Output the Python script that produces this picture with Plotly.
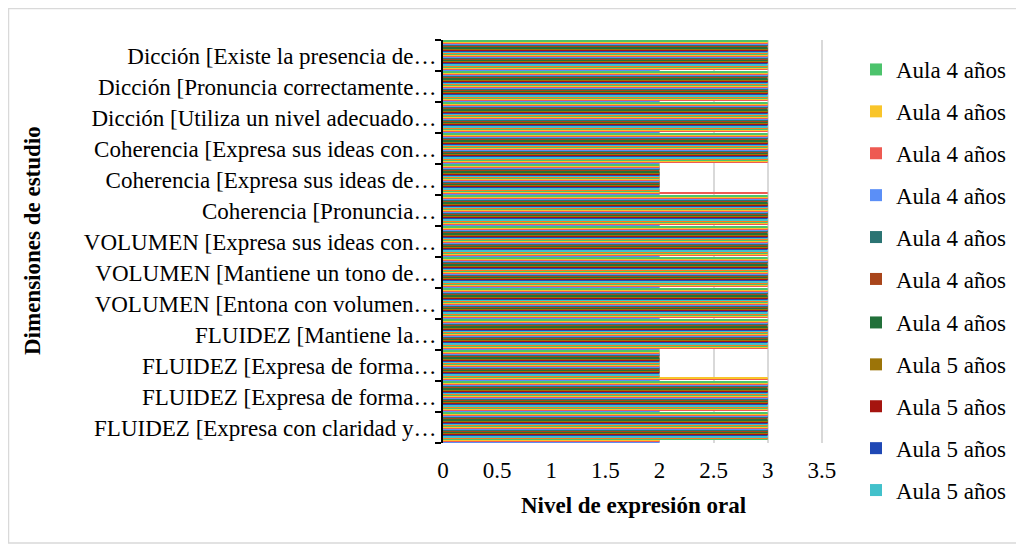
import plotly.graph_objects as go

# ---------------- data ----------------
categories = [
    "FLUIDEZ [Expresa con claridad y…",
    "FLUIDEZ [Expresa de forma…",
    "FLUIDEZ [Expresa de forma…\u200b",
    "FLUIDEZ [Mantiene la…",
    "VOLUMEN [Entona con volumen…",
    "VOLUMEN [Mantiene un tono de…",
    "VOLUMEN [Expresa sus ideas con…",
    "Coherencia [Pronuncia…",
    "Coherencia [Expresa sus ideas de…",
    "Coherencia [Expresa sus ideas con…",
    "Dicción [Utiliza un nivel adecuado…",
    "Dicción [Pronuncia correctamente…",
    "Dicción [Existe la presencia de…",
]

# series 1..21 -> Aula 5 años, 22..28 -> Aula 4 años
series_names = ["Aula 5 años"] * 21 + ["Aula 4 años"] * 7

# one row per series (student), one value per category (bottom -> top)
scores = [
    [2, 2, 2, 2, 2, 2, 2, 2, 2, 2, 2, 2, 2],  # 1
    [2, 3, 3, 3, 3, 3, 3, 3, 3, 3, 3, 3, 3],  # 2
    [2, 3, 3, 3, 3, 3, 3, 3, 2, 3, 3, 3, 3],  # 3
    [3, 3, 2, 3, 3, 3, 3, 3, 2, 3, 3, 3, 3],  # 4
    [3, 3, 2, 3, 3, 3, 3, 3, 2, 3, 3, 3, 3],  # 5
    [3, 3, 2, 3, 3, 3, 3, 3, 2, 3, 3, 3, 3],  # 6
    [3, 3, 2, 3, 3, 3, 3, 3, 2, 3, 3, 3, 3],  # 7
    [3, 3, 2, 3, 3, 3, 3, 3, 2, 3, 3, 3, 3],  # 8
    [3, 3, 2, 3, 3, 3, 3, 3, 2, 3, 3, 3, 3],  # 9
    [3, 3, 2, 3, 3, 3, 3, 3, 2, 3, 3, 3, 3],  # 10
    [3, 3, 2, 3, 3, 3, 3, 3, 2, 3, 3, 3, 3],  # 11
    [3, 3, 2, 3, 3, 3, 3, 3, 2, 3, 3, 3, 3],  # 12
    [3, 3, 2, 3, 3, 3, 3, 3, 2, 3, 3, 3, 3],  # 13
    [3, 3, 2, 3, 3, 3, 3, 3, 2, 3, 3, 3, 3],  # 14
    [3, 3, 2, 3, 3, 3, 3, 3, 2, 3, 3, 3, 3],  # 15
    [3, 3, 2, 3, 3, 3, 3, 3, 2, 3, 3, 3, 3],  # 16
    [3, 3, 2, 3, 3, 3, 3, 3, 2, 3, 3, 3, 3],  # 17
    [3, 3, 2, 3, 3, 3, 3, 3, 2, 3, 3, 3, 3],  # 18
    [3, 3, 2, 3, 3, 3, 3, 3, 2, 3, 3, 3, 3],  # 19
    [3, 3, 2, 3, 3, 3, 3, 3, 2, 3, 3, 3, 3],  # 20
    [3, 3, 2, 3, 3, 3, 3, 3, 2, 3, 3, 3, 3],  # 21
    [3, 3, 2, 3, 3, 3, 3, 3, 2, 3, 3, 3, 3],  # 22
    [3, 3, 2, 3, 3, 3, 3, 3, 2, 3, 3, 3, 3],  # 23
    [3, 3, 2, 3, 3, 3, 3, 3, 2, 3, 3, 3, 3],  # 24
    [3, 3, 2, 3, 3, 3, 3, 3, 2, 3, 3, 3, 3],  # 25
    [3, 3, 2, 3, 3, 3, 3, 3, 2, 3, 3, 3, 3],  # 26
    [3, 3, 2, 3, 3, 3, 3, 3, 2, 3, 3, 3, 3],  # 27
    [3, 3, 2, 3, 3, 3, 3, 3, 2, 3, 3, 3, 3],  # 28
]

palette = [
    "#5B8FF7", "#EE5A52", "#F9C52A", "#4CC36C", "#FF7A1C", "#42C1CB",
    "#1F48B5", "#A5140F", "#9C7408", "#22703A", "#A9451B", "#2B7473",
]

x_ticks = [0, 0.5, 1, 1.5, 2, 2.5, 3, 3.5]

# ---------------- figure ----------------
FONT = "Liberation Serif, Times New Roman, serif"
OFF = 8                      # page body margin
W, H = 1024 - OFF, 544 - OFF
L, T = 443 - OFF, 40 - OFF
R = W - (824 - OFF)
B = H - (443 - OFF)
PW, PH = W - L - R, H - T - B


def px_x(p):
    return (p - OFF - L) / PW


def px_y(p):
    return (H - B - (p - OFF)) / PH


fig = go.Figure()
n = len(scores)
for i, vals in enumerate(scores):
    shown = i >= n - 11
    fig.add_trace(go.Bar(
        x=vals,
        y=categories,
        orientation="h",
        name=series_names[i],
        legendgroup=f"s{i}",
        legendrank=100 + (n - i),
        legend="legend" if i >= n - 6 else "legend2",
        showlegend=shown,
        marker=dict(color=palette[i % len(palette)], line=dict(width=0)),
    ))

legend_style = dict(
    xanchor="left", yanchor="top",
    traceorder="grouped",
    tracegroupgap=9,
    font=dict(family=FONT, size=23, color="black"),
    bgcolor="rgba(0,0,0,0)",
)

fig.update_layout(
    width=W, height=H,
    margin=dict(l=L, r=R, t=T, b=B, autoexpand=False),
    paper_bgcolor="white",
    plot_bgcolor="white",
    barmode="group",
    bargap=0.04,
    bargroupgap=0,
    font=dict(family=FONT, size=23, color="black"),
    legend=dict(x=px_x(856), y=px_y(48), **legend_style),
    legend2=dict(x=px_x(856), y=px_y(301), **legend_style),
    xaxis=dict(
        range=[0, 3.52],
        tickvals=x_ticks,
        showgrid=True, gridcolor="#D9D9D9", gridwidth=2,
        zeroline=False, showline=False, ticks="",
        ticklabelstandoff=11,
        tickfont=dict(family=FONT, size=23, color="black"),
        title=dict(text="<b>Nivel de expresión oral</b>", standoff=14,
                   font=dict(family=FONT, size=23, color="black")),
    ),
    yaxis=dict(
        type="category",
        categoryorder="array", categoryarray=categories,
        showline=True, linecolor="black", linewidth=2,
        ticks="outside", tickson="boundaries", ticklen=6, tickcolor="black", tickwidth=2,
        showgrid=False,
        tickfont=dict(family=FONT, size=23, color="black"),
    ),
    annotations=[dict(
        text="<b>Dimensiones de estudio</b>",
        xref="paper", yref="paper",
        x=px_x(32), y=px_y(240), xanchor="center", yanchor="middle",
        textangle=-90, showarrow=False,
        font=dict(family=FONT, size=23, color="black"),
    )],
    shapes=[dict(
        type="rect", xref="paper", yref="paper",
        x0=px_x(8.5), x1=px_x(1023), y0=px_y(543), y1=px_y(8.5),
        line=dict(color="#D9D9D9", width=1.5), fillcolor="rgba(0,0,0,0)",
        layer="below",
    )],
)

fig.write_html("out.html")
